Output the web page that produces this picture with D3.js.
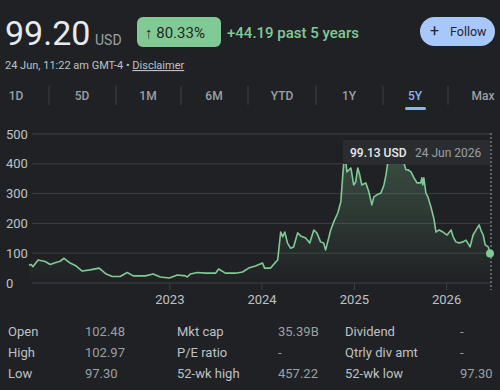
<!DOCTYPE html>
<meta charset="utf-8">
<script src="https://d3js.org/d3.v7.min.js"></script>
<style>
  body { margin: 0; background: #202124; }
  svg { display: block; font-family: Roboto, "Open Sans", sans-serif; }
</style>
<body>
<div id="chart"></div>
<script>

// price series
var dates = ["2021-06-24","2021-07-02","2021-07-10","2021-07-30","2021-08-27","2021-09-16","2021-10-05","2021-10-25",
  "2021-11-10","2021-12-04","2021-12-28","2022-01-21","2022-02-21","2022-03-29","2022-04-26","2022-05-20",
  "2022-06-20","2022-07-18","2022-08-11","2022-08-27","2022-09-28","2022-10-29","2022-11-26","2023-01-01",
  "2023-02-02","2023-03-06","2023-03-13","2023-03-25","2023-04-22","2023-05-24","2023-07-03","2023-07-15",
  "2023-08-11","2023-09-20","2023-10-18","2023-11-11","2023-12-08","2024-01-05","2024-01-13","2024-02-06",
  "2024-02-26","2024-03-05","2024-03-17","2024-03-25","2024-04-02","2024-04-13","2024-04-25","2024-05-07",
  "2024-05-23","2024-06-04","2024-06-24","2024-07-10","2024-07-26","2024-08-07","2024-08-22","2024-09-03",
  "2024-09-11","2024-09-23","2024-10-01","2024-10-13","2024-10-29","2024-11-10","2024-11-18","2024-11-26",
  "2024-12-04","2024-12-20","2024-12-31","2025-01-08","2025-01-16","2025-01-24","2025-02-01","2025-02-17",
  "2025-03-01","2025-03-13","2025-03-21","2025-04-02","2025-04-18","2025-04-30","2025-05-08","2025-05-15",
  "2025-05-23","2025-06-04","2025-06-24","2025-07-06","2025-07-18","2025-07-26","2025-08-03","2025-08-15",
  "2025-08-27","2025-09-08","2025-09-23","2025-09-27","2025-10-01","2025-10-05","2025-10-13","2025-10-21",
  "2025-11-02","2025-11-14","2025-11-22","2025-12-04","2025-12-20","2026-01-05","2026-01-21","2026-01-29",
  "2026-02-09","2026-02-21","2026-03-09","2026-03-21","2026-04-06","2026-04-18","2026-04-30","2026-05-12",
  "2026-05-20","2026-05-28","2026-06-05","2026-06-17","2026-06-24"];
var prices = [60,62,55,77,72,62,68,73,
  83,67,57,40,44,50,30,22,
  22,35,24,24,24,30,20,17,
  27,24,20,30,35,33,33,47,
  33,33,37,50,57,67,50,50,
  70,77,171,155,171,134,117,121,
  168,158,151,134,178,168,138,134,
  111,151,178,205,235,272,363,445,
  373,386,329,339,386,363,329,336,
  306,262,289,296,302,329,363,403,
  420,440,457,430,403,380,380,373,
  353,336,336,353,329,353,302,289,
  255,215,171,178,171,161,178,155,
  138,134,138,144,121,161,178,195,
  175,161,128,121,99.13];

var yTicks = [0, 100, 200, 300, 400, 500];
var xTickYears = ["2023", "2024", "2025", "2026"];
var tabs = ["1D", "5D", "1M", "6M", "YTD", "1Y", "5Y", "Max"];
var statLabels = [["Open", "High", "Low"], ["Mkt cap", "P/E ratio", "52-wk high"], ["Dividend", "Qtrly div amt", "52-wk low"]];
var statValues = [["102.48", "102.97", "97.30"], ["35.39B", "-", "457.22"], ["-", "-", "97.30"]];

var parse = d3.timeParse("%Y-%m-%d");
var data = dates.map(function(d, i) { return { date: parse(d), value: prices[i] }; });

var svg = d3.select("#chart").append("svg")
  .attr("width", 500)
  .attr("height", 390);

svg.append("rect").attr("width", 500).attr("height", 390).attr("fill", "#202124");

// header
svg.append("text").attr("x", 5).attr("y", 45)
  .attr("font-size", 34).attr("fill", "#e8eaed").text("99.20");
svg.append("text").attr("x", 95).attr("y", 45)
  .attr("font-size", 14).attr("fill", "#9aa0a6").text("USD");

svg.append("rect").attr("x", 137).attr("y", 17).attr("width", 84).attr("height", 30)
  .attr("rx", 6).attr("fill", "#81c995");
svg.append("text").attr("x", 145).attr("y", 38)
  .attr("font-size", 15).attr("fill", "#1f2a22").text("\u2191 80.33%");
svg.append("text").attr("x", 227).attr("y", 38)
  .attr("font-size", 15).attr("font-weight", 500).attr("fill", "#81c995").text("+44.19 past 5 years");

svg.append("rect").attr("x", 420).attr("y", 17).attr("width", 75).attr("height", 29)
  .attr("rx", 14.5).attr("fill", "#a8c7fa");
svg.append("text").attr("x", 430).attr("y", 36)
  .attr("font-size", 16).attr("fill", "#1f2630").text("+");
svg.append("text").attr("x", 450).attr("y", 36)
  .attr("font-size", 12.5).attr("fill", "#1f2630").text("Follow");

var sub = svg.append("text").attr("x", 5).attr("y", 69)
  .attr("font-size", 11).attr("fill", "#bdc1c6");
sub.append("tspan").text("24 Jun, 11:22 am GMT-4 \u2022 ");
sub.append("tspan").attr("text-decoration", "underline").text("Disclaimer");

// range tabs
var tabX = [16, 82, 148, 214, 282, 349, 415, 483];
var sepX = [49, 116, 181, 248, 316, 383, 448];
svg.selectAll(".sep").data(sepX).enter().append("line")
  .attr("x1", function(d) { return d; }).attr("x2", function(d) { return d; })
  .attr("y1", 86).attr("y2", 105).attr("stroke", "#3c4043");
svg.selectAll(".tab").data(tabs).enter().append("text")
  .attr("x", function(d, i) { return tabX[i]; }).attr("y", 100)
  .attr("text-anchor", "middle").attr("font-size", 12).attr("font-weight", 500)
  .attr("fill", function(d) { return d == "5Y" ? "#8ab4f8" : "#9aa0a6"; })
  .text(function(d) { return d; });
svg.append("rect").attr("x", 405).attr("y", 107).attr("width", 21).attr("height", 3)
  .attr("rx", 1.5).attr("fill", "#8ab4f8");

// scales
var x = d3.scaleTime()
  .domain([parse("2021-06-24"), parse("2026-06-24")])
  .range([29, 490]);
var y = d3.scaleLinear().domain([0, 500]).range([283, 134]);

// grid + y labels
svg.append("g").selectAll("line").data(yTicks).enter().append("line")
  .attr("x1", 32).attr("x2", 491)
  .attr("y1", function(d) { return y(d); }).attr("y2", function(d) { return y(d); })
  .attr("stroke", "#3c4043");
svg.append("g").selectAll("text").data(yTicks).enter().append("text")
  .attr("x", 6).attr("y", function(d) { return y(d) + 4.5; })
  .attr("font-size", 13).attr("fill", "#bdc1c6")
  .text(function(d) { return d; });

// x axis
var xAxis = svg.append("g")
  .attr("transform", "translate(0,283)")
  .call(d3.axisBottom(x)
    .tickValues(xTickYears.map(function(s) { return parse(s + "-01-01"); }))
    .tickSize(7).tickPadding(5)
    .tickFormat(d3.timeFormat("%Y")));
xAxis.select(".domain").remove();
xAxis.selectAll("line").attr("stroke", "#3c4043");
xAxis.selectAll("text").attr("font-size", 13).attr("fill", "#bdc1c6")
  .attr("font-family", "Roboto, sans-serif");

// area gradient
var grad = svg.append("defs").append("linearGradient")
  .attr("id", "fade").attr("gradientUnits", "userSpaceOnUse")
  .attr("x1", 0).attr("y1", y(460)).attr("x2", 0).attr("y2", y(0));
grad.append("stop").attr("offset", "0%").attr("stop-color", "#81c995").attr("stop-opacity", 0.28);
grad.append("stop").attr("offset", "100%").attr("stop-color", "#81c995").attr("stop-opacity", 0);

svg.append("path").datum(data)
  .attr("fill", "url(#fade)")
  .attr("d", d3.area().x(function(d) { return x(d.date); }).y0(y(0)).y1(function(d) { return y(d.value); }));

svg.append("path").datum(data)
  .attr("fill", "none").attr("stroke", "#81c995").attr("stroke-width", 1.6)
  .attr("stroke-linejoin", "round")
  .attr("d", d3.line().x(function(d) { return x(d.date); }).y(function(d) { return y(d.value); }));

// hover marker
var last = data[data.length - 1];
svg.append("line")
  .attr("x1", x(last.date) + 1).attr("x2", x(last.date) + 1)
  .attr("y1", 133).attr("y2", 290)
  .attr("stroke", "#9aa0a6").attr("stroke-dasharray", "2,2").attr("stroke-width", 1);

svg.append("rect").attr("x", 343).attr("y", 140).attr("width", 147).attr("height", 24)
  .attr("fill", "#2b2c2f");
svg.append("text").attr("x", 350).attr("y", 156.5)
  .attr("font-size", 12).attr("font-weight", 500).attr("fill", "#e8eaed").text("99.13 USD");
svg.append("text").attr("x", 415).attr("y", 156.5)
  .attr("font-size", 12).attr("fill", "#9aa0a6").text("24 Jun 2026");

svg.append("circle").attr("cx", x(last.date)).attr("cy", y(last.value))
  .attr("r", 4).attr("fill", "#81c995");

// stats table
var colLabelX = [8, 177, 345];
var colValueX = [85, 278, 460];
var rowY = [336, 357, 378];
statLabels.forEach(function(col, c) {
  col.forEach(function(lbl, r) {
    svg.append("text").attr("x", colLabelX[c]).attr("y", rowY[r])
      .attr("font-size", 13).attr("fill", "#bdc1c6").text(lbl);
    svg.append("text").attr("x", colValueX[c]).attr("y", rowY[r])
      .attr("font-size", 13).attr("fill", "#9aa0a6").text(statValues[c][r]);
  });
});

</script>
</body>
